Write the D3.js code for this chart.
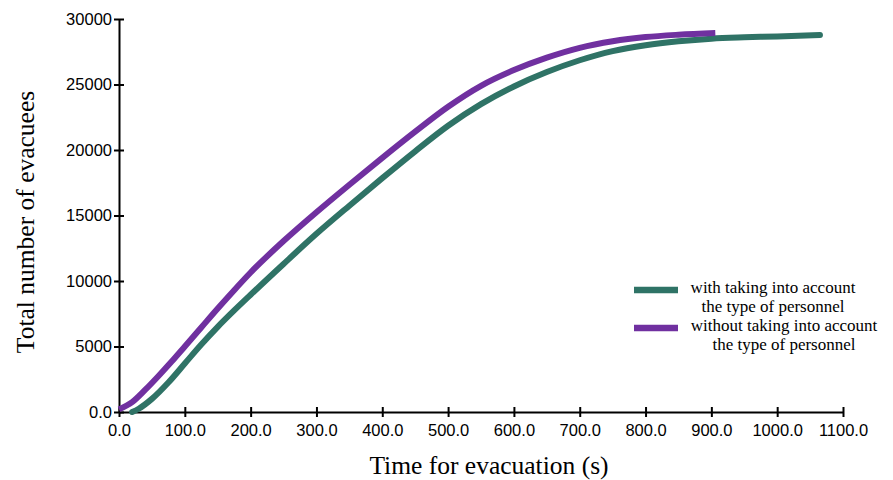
<!DOCTYPE html>
<html>
<head>
<meta charset="utf-8">
<script src="https://cdn.jsdelivr.net/npm/d3@7/dist/d3.min.js"></script>
<style>
  html, body { margin: 0; padding: 0; background: #fff; }
  svg { display: block; }
</style>
</head>
<body>
<svg id="chart" width="893" height="480"></svg>
<script>
// ---- data ----
const xTicks = [0, 100, 200, 300, 400, 500, 600, 700, 800, 900, 1000, 1100];
const yTicks = [0, 5000, 10000, 15000, 20000, 25000, 30000];

const withTimes = [20, 30, 50, 75, 100, 125, 150, 175, 200, 250, 300, 350, 400, 450, 500, 550, 600, 650, 700, 750, 800, 850, 900, 950, 1000, 1065];
const withValues = [0, 250, 1000, 2250, 3700, 5150, 6500, 7750, 8950, 11300, 13600, 15750, 17850, 19900, 21850, 23500, 24850, 25950, 26850, 27550, 28000, 28300, 28500, 28600, 28670, 28780];

const withoutTimes = [0, 20, 40, 60, 80, 100, 125, 150, 175, 200, 250, 300, 350, 400, 450, 500, 550, 600, 650, 700, 750, 800, 850, 906];
const withoutValues = [200, 750, 1700, 2750, 3850, 5000, 6450, 7900, 9300, 10650, 13050, 15250, 17350, 19400, 21400, 23300, 24900, 26100, 27050, 27800, 28300, 28620, 28800, 28930];

const seriesNames = ["with taking into account|the type of personnel", "without taking into account|the type of personnel"];
const seriesColors = ["#2f7366", "#7030a0"];

// ---- layout ----
const svg = d3.select("#chart");
const x = d3.scaleLinear().domain([0, 1100]).range([119, 843]);
const y = d3.scaleLinear().domain([0, 30000]).range([412, 19]);

const fmtX = d => d3.format(".1f")(d);
const fmtY = d => d === 0 ? "0.0" : String(d);

// axes
const xAxis = svg.append("g").attr("transform", "translate(0,412)")
  .call(d3.axisBottom(x).tickValues(xTicks).tickFormat(fmtX).tickSizeInner(5).tickSizeOuter(0).tickPadding(7));
const yAxis = svg.append("g").attr("transform", "translate(119,0)")
  .call(d3.axisLeft(y).tickValues(yTicks).tickFormat(fmtY).tickSizeInner(5).tickSizeOuter(0).tickPadding(3));

[xAxis, yAxis].forEach(g => {
  g.select(".domain").attr("stroke", "#000").attr("stroke-width", 2);
  g.selectAll(".tick line").attr("stroke", "#000").attr("stroke-width", 2);
  g.selectAll(".tick text").attr("fill", "#000")
    .style("font-family", "'Liberation Sans', Arial, sans-serif").style("font-size", "16.5px");
});
// ticks cross the axis
xAxis.selectAll(".tick line").attr("y1", -5).attr("y2", 5);
yAxis.selectAll(".tick line").attr("x1", -5).attr("x2", 5);
yAxis.selectAll(".tick text").attr("x", -7);

// lines
const line = d3.line().x(d => x(d[0])).y(d => y(d[1])).curve(d3.curveMonotoneX);
const series = [
  d3.zip(withTimes, withValues),
  d3.zip(withoutTimes, withoutValues)
];
series.forEach((s, i) => {
  svg.append("path").datum(s)
    .attr("d", line)
    .attr("fill", "none")
    .attr("stroke", seriesColors[i])
    .attr("stroke-width", 6)
    .attr("stroke-linejoin", "round")
    .attr("stroke-linecap", i === 0 ? "round" : "butt");
});

// axis titles
svg.append("text")
  .attr("x", 489).attr("y", 474)
  .attr("text-anchor", "middle")
  .style("font-family", "'Liberation Serif', 'Times New Roman', serif")
  .style("font-size", "25.5px")
  .text("Time for evacuation (s)");

svg.append("text")
  .attr("transform", "translate(34,222) rotate(-90)")
  .attr("text-anchor", "middle")
  .style("font-family", "'Liberation Serif', 'Times New Roman', serif")
  .style("font-size", "25.5px")
  .text("Total number of evacuees");

// legend
const legendY = [290, 328];
const legendCenters = [773, 784];
seriesNames.forEach((name, i) => {
  svg.append("line")
    .attr("x1", 634).attr("x2", 678)
    .attr("y1", legendY[i]).attr("y2", legendY[i])
    .attr("stroke", seriesColors[i]).attr("stroke-width", 6.5);
  const parts = name.split("|");
  parts.forEach((p, j) => {
    svg.append("text")
      .attr("x", legendCenters[i]).attr("y", legendY[i] + 3 + j * 19)
      .attr("text-anchor", "middle")
      .style("font-family", "'Liberation Serif', 'Times New Roman', serif")
      .style("font-size", "17px")
      .text(p);
  });
});
</script>
</body>
</html>
